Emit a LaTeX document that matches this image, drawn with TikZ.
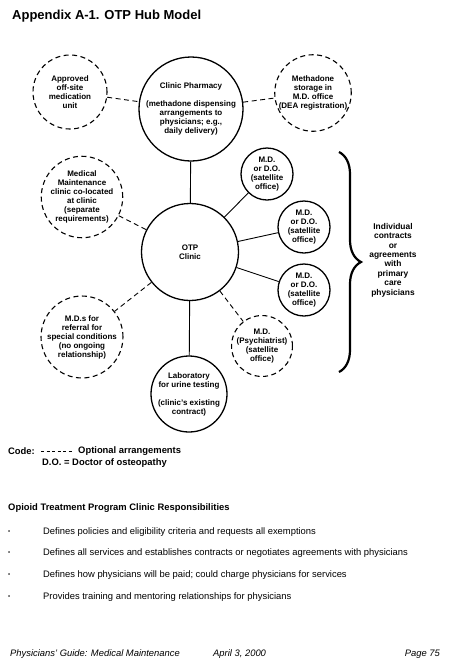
\documentclass[tikz,border=0pt]{standalone}
\usepackage{fontspec}
\setmainfont{Liberation Sans}
\usetikzlibrary{decorations.pathreplacing}
\begin{document}
\begin{tikzpicture}[x=1pt,y=-1pt,
  hub/.style={circle,draw,line width=1.3pt,inner sep=0pt,align=center,font=\fontsize{8}{9}\selectfont\bfseries},
  opt/.style={hub,line width=1.1pt,dash pattern=on 5pt off 3.5pt},
  link/.style={line width=0.9pt},
  optlink/.style={link,dash pattern=on 5pt off 3.5pt},
  txt/.style={anchor=west,inner sep=0pt,font=\fontsize{9.4}{11}\selectfont}]
\useasboundingbox [fill=white] (0,0) rectangle (455,670);
\node [anchor=west,inner sep=0pt,font=\fontsize{13}{15}\selectfont\bfseries] (title) at (12,16) {Appendix A-1. OTP Hub Model};
\node [opt,minimum size=74pt] (approved) at (70,92) {Approved\\off-site\\medication\\unit};
\node [hub,minimum size=97pt] (pharmacy) at (191,109) {Clinic Pharmacy\\[9pt](methadone dispensing\\arrangements to\\physicians; e.g.,\\daily delivery)};
\node [opt,minimum size=75pt] (storage) at (313,93) {Methadone\\storage in\\M.D. office\\(DEA registration)};
\node [opt,minimum size=76pt] (comaint) at (82,197) {Medical\\Maintenance\\clinic co-located\\at clinic\\(separate\\requirements)};
\node [hub,minimum size=97pt] (otp) at (190,252) {OTP\\Clinic};
\node [hub,minimum size=52pt] (md1) at (267,174) {M.D.\\or D.O.\\(satellite\\office)};
\node [hub,minimum size=52pt] (md2) at (304,227) {M.D.\\or D.O.\\(satellite\\office)};
\node [hub,minimum size=52pt] (md3) at (304,290) {M.D.\\or D.O.\\(satellite\\office)};
\node [opt,minimum size=56pt] (psych) at (262,346) {M.D.\\(Psychiatrist)\\(satellite\\office)};
\node [opt,minimum size=75pt] (referral) at (82,337) {M.D.s for\\referral for\\special conditions\\(no ongoing\\relationship)};
\node [hub,minimum size=76pt] (lab) at (189,394) {Laboratory\\for urine testing\\[9pt](clinic's existing\\contract)};
\draw [optlink] (approved) -- (pharmacy);
\draw [optlink] (pharmacy) -- (storage);
\draw [link] (pharmacy) -- (otp);
\draw [optlink] (comaint) -- (otp);
\draw [link] (otp) -- (md1);
\draw [link] (otp) -- (md2);
\draw [link] (otp) -- (md3);
\draw [optlink] (otp) -- (psych);
\draw [optlink] (otp) -- (referral);
\draw [link] (otp) -- (lab);
\coordinate (bracetop) at (339,152);
\coordinate (bracebot) at (339,372);
\draw [line width=2.2pt,decorate,decoration={brace,amplitude=22pt}] (bracetop) -- (bracebot);
\node [align=center,font=\fontsize{8.4}{9.4}\selectfont\bfseries] (contracts) at (393,260) {Individual\\contracts\\or\\agreements\\with\\primary\\care\\physicians};
\node [txt,font=\fontsize{9.4}{11}\selectfont\bfseries] (code) at (8,451) {Code:};
\coordinate (keyA) at (41,451);
\coordinate (keyB) at (73,451);
\draw [line width=0.8pt,dash pattern=on 3pt off 2.5pt] (keyA) -- (keyB);
\node [txt,font=\fontsize{9.4}{11}\selectfont\bfseries] (optional) at (78,451) {Optional arrangements};
\node [txt,font=\fontsize{9.4}{11}\selectfont\bfseries] (doctor) at (42,463) {D.O. = Doctor of osteopathy};
\node [txt,font=\fontsize{9.4}{11}\selectfont\bfseries] (resp) at (8,508) {Opioid Treatment Program Clinic Responsibilities};
\foreach \y/\t [count=\i] in {532/Defines policies and eligibility criteria and requests all exemptions,
  553/Defines all services and establishes contracts or negotiates agreements with physicians,
  575/{Defines how physicians will be paid; could charge physicians for services},
  597/Provides training and mentoring relationships for physicians} {
  \node [txt,font=\fontsize{6}{7}\selectfont] (bullet\i) at (8,\y) {•};
  \node [txt] (item\i) at (43,\y) {\t};
}
\node [txt,font=\fontsize{9.4}{11}\selectfont\itshape] (guide) at (10,654) {Physicians' Guide: Medical Maintenance};
\node [txt,font=\fontsize{9.4}{11}\selectfont\itshape] (date) at (213,654) {April 3, 2000};
\node [anchor=east,inner sep=0pt,font=\fontsize{9.4}{11}\selectfont\itshape] (page) at (440,654) {Page 75};
\end{tikzpicture}
\end{document}
